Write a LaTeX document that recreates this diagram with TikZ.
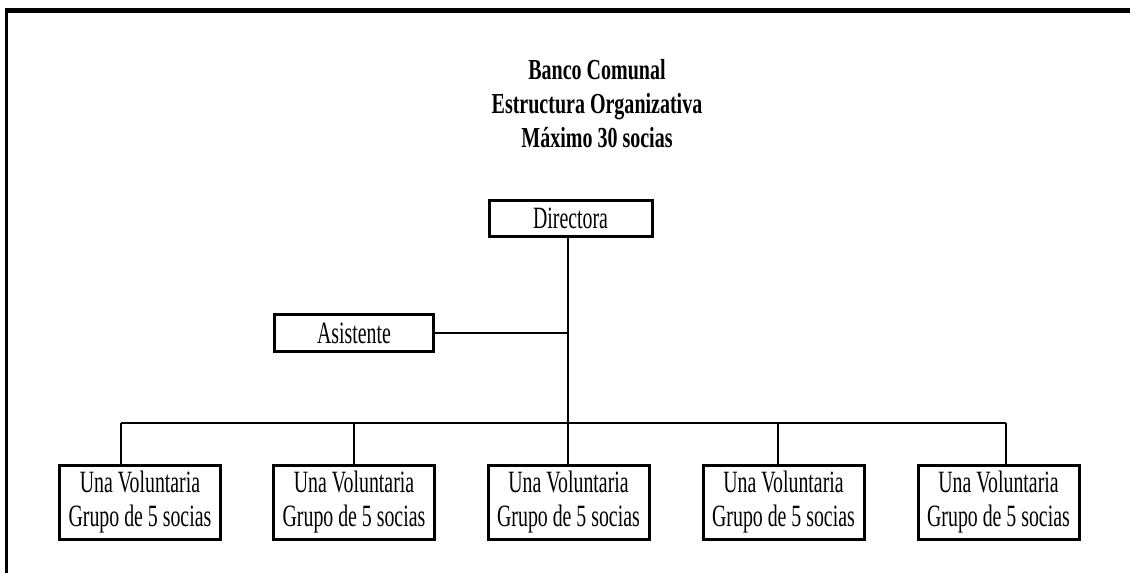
\documentclass[tikz,border=0pt]{standalone}
\usepackage{fontspec}
\setmainfont[FakeStretch=0.64]{Liberation Serif}
\newfontfamily\titlefont[FakeStretch=0.69]{Liberation Serif}
\begin{document}
\begin{tikzpicture}[x=1pt, y=-1pt, line width=1.3pt, box/.style={draw=black,line width=3pt,inner sep=0pt,align=center,font=\fontsize{31}{34}\selectfont}, head/.style={anchor=base,font=\titlefont\bfseries\fontsize{29}{33}\selectfont}]%
\useasboundingbox (0,0) rectangle (1130,573);
\draw[line width=5pt] (1130,10) -- (5,10);
\draw[line width=3pt] (6.3,7.5) -- (6.3,573);
\begin{scope}
\node[head] (ttl1) at (597,79) {Banco Comunal};
\node[head] (ttl2) at (597,113) {Estructura Organizativa};
\node[head] (ttl3) at (597,147) {Máximo 30 socias};
\end{scope}
\begin{scope}[every node/.style={box}]
\node[minimum width=163pt, minimum height=36pt] (dir) at (570.5,218) {Directora};
\node[minimum width=159pt, minimum height=37pt] (asis) at (354,333) {Asistente};
\node[minimum width=161pt, minimum height=74pt] (v1) at (140,502) {Una Voluntaria\\Grupo de 5 socias};
\node[minimum width=161pt, minimum height=74pt] (v2) at (354,502) {Una Voluntaria\\Grupo de 5 socias};
\node[minimum width=161pt, minimum height=74pt] (v3) at (568.5,502) {Una Voluntaria\\Grupo de 5 socias};
\node[minimum width=161pt, minimum height=74pt] (v4) at (783.5,502) {Una Voluntaria\\Grupo de 5 socias};
\node[minimum width=161pt, minimum height=74pt] (v5) at (998.5,502) {Una Voluntaria\\Grupo de 5 socias};
\end{scope}
\coordinate (b1) at (121,423);
\coordinate (b2) at (354,423);
\coordinate (b3) at (568,423);
\coordinate (b4) at (778,423);
\coordinate (b5) at (1006,423);
\begin{scope}[every edge/.style={draw=black,line width=1.3pt}]
\draw (dir.south -| b3) edge (b3);
\draw (asis.east) edge (asis.east -| b3);
\draw (b1) edge (b5);
\draw (b1) edge (b1 |- v1.north);
\draw (b2) edge (b2 |- v2.north);
\draw (b3) edge (b3 |- v3.north);
\draw (b4) edge (b4 |- v4.north);
\draw (b5) edge (b5 |- v5.north);
\end{scope}
\end{tikzpicture}
\end{document}
